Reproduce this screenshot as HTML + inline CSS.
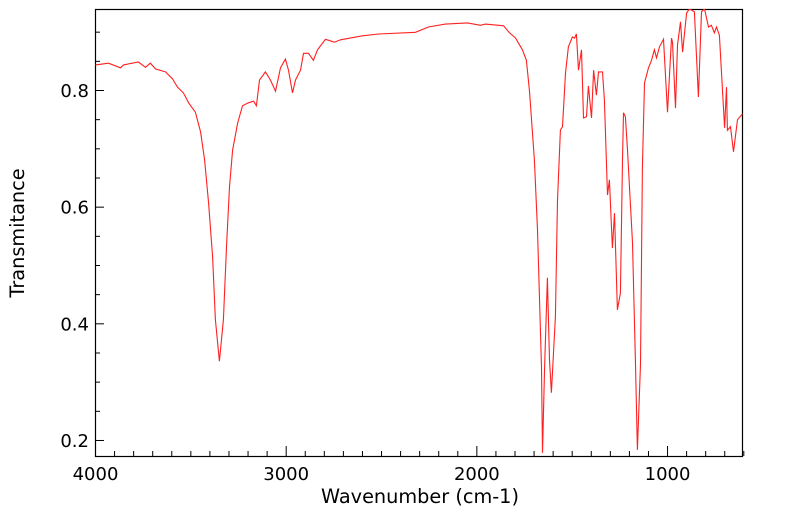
<!DOCTYPE html>
<html><head><meta charset="utf-8"><style>
body{margin:0;background:#fff}
svg text{font-family:"DejaVu Sans","Liberation Sans",sans-serif;fill:#000}
</style></head><body>
<svg id="chart" width="799" height="516" xmlns="http://www.w3.org/2000/svg">
<defs><clipPath id="pc"><rect x="95" y="9" width="648" height="447"/></clipPath></defs>
<rect x="95.5" y="9.5" width="647" height="447" fill="none" stroke="#000" stroke-width="1.2"/>
<g id="ticks"></g>
<path id="line" fill="none" stroke="#ff2020" stroke-width="1.1" clip-path="url(#pc)"/>
<text x="420" y="503" font-size="19.3" text-anchor="middle">Wavenumber (cm-1)</text>
<text transform="translate(24,233) rotate(-90)" font-size="19.3" text-anchor="middle">Transmitance</text>
</svg>
<script>
const wavenumbers=[4000,3932,3869,3853,3775,3738,3712,3685,3633,3596,3570,3539,3512,3476,3449,3428,3407,3386,3371,3350,3329,3313,3297,3281,3255,3229,3198,3171,3156,3140,3109,3082,3056,3030,3004,2988,2967,2951,2925,2909,2883,2857,2836,2794,2747,2715,2600,2516,2322,2254,2165,2049,1981,1955,1860,1829,1797,1761,1740,1724,1698,1682,1661,1656,1645,1630,1619,1609,1588,1577,1562,1551,1535,1520,1499,1488,1478,1467,1451,1441,1425,1415,1399,1388,1373,1362,1341,1331,1315,1305,1289,1278,1263,1247,1236,1231,1221,1210,1184,1168,1158,1142,1132,1121,1100,1084,1069,1058,1042,1021,1000,979,974,958,948,932,921,900,885,859,838,822,806,785,770,754,743,728,701,691,686,670,654,633,607];
const transmittance=[.843,.846,.838,.843,.848,.839,.846,.836,.831,.819,.805,.795,.778,.762,.728,.680,.606,.514,.406,.335,.406,.531,.634,.697,.743,.773,.778,.781,.773,.817,.831,.817,.798,.838,.853,.834,.795,.817,.834,.863,.863,.851,.869,.887,.882,.886,.893,.896,.899,.908,.913,.915,.911,.913,.910,.898,.889,.869,.851,.798,.680,.560,.325,.178,.325,.478,.337,.281,.411,.611,.731,.737,.829,.874,.891,.889,.896,.834,.869,.752,.754,.807,.752,.834,.791,.831,.831,.783,.620,.646,.529,.589,.423,.452,.680,.761,.754,.697,.538,.330,.183,.330,.668,.812,.838,.851,.869,.855,.874,.887,.762,.889,.882,.769,.877,.917,.865,.932,.939,.934,.788,.934,.939,.908,.911,.898,.908,.894,.735,.805,.731,.737,.694,.749,.759];
const yTicks=[0.2,0.4,0.6,0.8];
const xTicks=[4000,3000,2000,1000];
const X=w=>95.5+(4000-w)*0.19068;
const Y=t=>90-(t-0.8)*583.3;
const NS='http://www.w3.org/2000/svg';
let d='';
for(let i=0;i<wavenumbers.length;i++)d+=(i?'L':'M')+X(wavenumbers[i]).toFixed(1)+','+Y(transmittance[i]).toFixed(1);
document.getElementById('line').setAttribute('d',d);
const g=document.getElementById('ticks');
function ln(x1,y1,x2,y2){const l=document.createElementNS(NS,'line');l.setAttribute('x1',x1);l.setAttribute('y1',y1);l.setAttribute('x2',x2);l.setAttribute('y2',y2);l.setAttribute('stroke','#000');


g.appendChild(l);}
function tx(x,y,s,a){const t=document.createElementNS(NS,'text');t.setAttribute('x',x);t.setAttribute('y',y);t.setAttribute('font-size','18');t.setAttribute('text-anchor',a);t.textContent=s;


g.appendChild(t);}
for(let w=4000;w>=600;w-=100){const x=X(w);const maj=w%1000===0;ln(x,456,x,456-(maj?10:5));}
for(let k=4;k<=18;k++){const t=k*0.05;const y=Y(t)+0.5;const maj=k%4===0;ln(95,y,95+(maj?9:5),y);}
xTicks.forEach(w=>tx(X(w),480,String(w),'middle'));
yTicks.forEach(t=>tx(89,Y(t)+7,t.toFixed(1),'end'));
</script>
</body></html>
